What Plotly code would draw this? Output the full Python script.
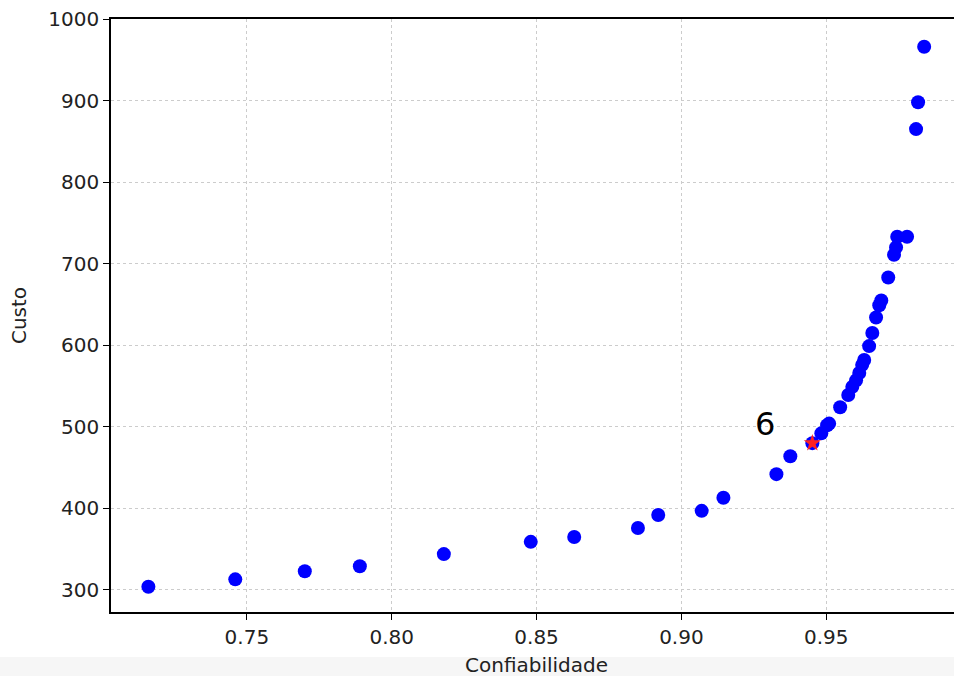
import plotly.graph_objects as go

confiabilidade = [0.716, 0.746, 0.770, 0.789, 0.818, 0.848, 0.863, 0.885, 0.892, 0.907,
                  0.9145, 0.9328, 0.9376, 0.9452, 0.9483, 0.9503, 0.9510, 0.9548, 0.9576,
                  0.9590, 0.9603, 0.9614, 0.9624, 0.9631, 0.9648, 0.9659, 0.9672, 0.9683,
                  0.9690, 0.9714, 0.9734, 0.9741, 0.9745, 0.9779, 0.9810, 0.9817, 0.9838]
custo = [304, 313, 323, 329, 344, 359, 365, 376, 392, 397,
         413, 442, 464, 480, 492, 502, 504, 524, 539,
         549, 557, 566, 576, 582, 599, 615, 634, 649,
         655, 683, 711, 720, 733, 733, 865, 898, 966]

sel_conf = [0.9452]
sel_custo = [480]
sel_label = "6"

x_ticks = [0.75, 0.80, 0.85, 0.90, 0.95]
x_ticklabels = ["0.75", "0.80", "0.85", "0.90", "0.95"]
y_ticks = [300, 400, 500, 600, 700, 800, 900, 1000]

FONT = "DejaVu Sans"

fig = go.Figure()
fig.add_trace(go.Scatter(
    x=confiabilidade, y=custo, mode="markers",
    marker=dict(color="#0000ff", size=14, line=dict(width=0)),
    showlegend=False, hoverinfo="x+y"))
fig.add_trace(go.Scatter(
    x=sel_conf, y=sel_custo, mode="markers",
    marker=dict(color="#ff2020", size=13, symbol="star", line=dict(width=0)),
    showlegend=False))

fig.add_annotation(x=sel_conf[0], y=sel_custo[0], text=sel_label, showarrow=False,
                   xshift=-47, yshift=19, xanchor="center", yanchor="middle",
                   font=dict(family=FONT, size=32, color="black"))

fig.add_annotation(x=0.5053, y=-0.09, xref="paper", yref="paper", text="Confiabilidade",
                   showarrow=False, xanchor="center", yanchor="middle",
                   font=dict(family=FONT, size=20, color="#222"))

fig.add_shape(type="rect", xref="paper", yref="paper", x0=-0.2, x1=1.01, y0=-0.12, y1=-0.076,
              fillcolor="#f6f6f6", line=dict(width=0), layer="below")

axis_common = dict(
    showline=True, linecolor="black", linewidth=1.5,
    ticks="outside", ticklen=6, tickwidth=1.2, tickcolor="black",
    showgrid=True, gridcolor="#cccccc", griddash="dot", gridwidth=1,
    zeroline=False, tickfont=dict(family=FONT, size=20, color="#222"),
)

fig.update_xaxes(range=[0.7031, 0.9941], tickvals=x_ticks, ticktext=x_ticklabels,
                 mirror=True, **axis_common)
fig.update_yaxes(range=[273, 1000], tickvals=y_ticks,
                 title=dict(text="Custo", font=dict(family=FONT, size=20, color="#222"), standoff=16),
                 **axis_common)

fig.update_layout(
    width=954, height=676,
    margin=dict(l=111, r=0, t=19, b=64),
    plot_bgcolor="white", paper_bgcolor="white",
    font=dict(family=FONT),
)

fig.write_html("out.html")
